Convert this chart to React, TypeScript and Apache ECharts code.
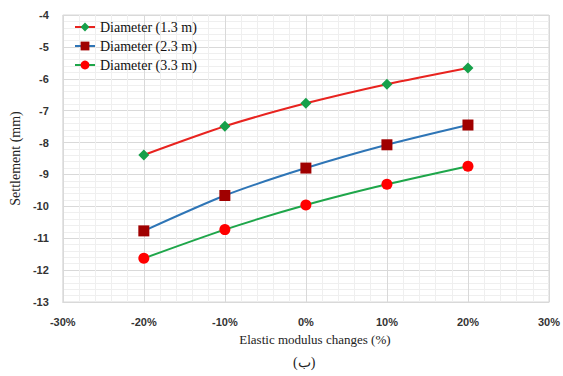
import React, { useEffect, useRef } from "react";
import * as echarts from "echarts";

const categories = [-20, -10, 0, 10, 20];
const d13 = [-8.39, -7.49, -6.77, -6.17, -5.66];
const d23 = [-10.77, -9.66, -8.80, -8.07, -7.45];
const d33 = [-11.63, -10.73, -9.96, -9.31, -8.74];
const seriesNames = ["Diameter (1.3 m)", "Diameter (2.3 m)", "Diameter (3.3 m)"];

const pair = (vals: number[]) => categories.map((c, i) => [c, vals[i]]);

export default function App() {
  const ref = useRef<HTMLDivElement>(null);
  useEffect(() => {
    const chart = echarts.init(ref.current!, null, { renderer: "svg" });
    const serif = "Liberation Serif";
    const sans = "Liberation Sans";
    chart.setOption({
      animation: false,
      backgroundColor: "#ffffff",
      textStyle: { fontFamily: serif },
      grid: { left: 59, right: 14, top: 15, bottom: 74, show: true, borderColor: "#d9d9d9", borderWidth: 1 },
      legend: {
        left: 69,
        top: 15,
        orient: "vertical",
        itemGap: 5,
        itemWidth: 20,
        itemHeight: 11,
        textStyle: { fontFamily: serif, fontSize: 14, color: "#111" },
        data: seriesNames,
      },
      xAxis: {
        type: "value",
        min: -30,
        max: 30,
        interval: 10,
        name: "Elastic modulus changes (%)",
        nameLocation: "middle",
        nameGap: 31,
        nameTextStyle: { fontFamily: serif, fontSize: 13, color: "#222", padding: [0, 0, 0, 18] },
        axisLine: { show: true, lineStyle: { color: "#d9d9d9" } },
        axisTick: { show: false },
        axisLabel: { formatter: "{value}%", fontFamily: sans, fontWeight: "bold", fontSize: 11, color: "#333", margin: 14 },
        splitLine: { show: true, lineStyle: { color: "#d9d9d9", width: 1 } },
        minorTick: { show: false, splitNumber: 5 },
        minorSplitLine: { show: true, lineStyle: { color: "#efefef", width: 1 } },
      },
      yAxis: {
        type: "value",
        min: -13,
        max: -4,
        interval: 1,
        name: "Settlement (mm)",
        nameLocation: "middle",
        nameGap: 40,
        nameTextStyle: { fontFamily: serif, fontSize: 14, color: "#222" },
        axisLine: { show: false },
        axisTick: { show: false },
        axisLabel: { fontFamily: sans, fontWeight: "bold", fontSize: 11, color: "#333", margin: 14 },
        splitLine: { show: true, lineStyle: { color: "#d9d9d9", width: 1 } },
        minorTick: { show: false, splitNumber: 5 },
        minorSplitLine: { show: true, lineStyle: { color: "#efefef", width: 1 } },
      },
      series: [
        {
          name: seriesNames[0],
          type: "line",
          data: pair(d13),
          smooth: 0.25,
          symbol: "diamond",
          symbolSize: 11,
          lineStyle: { color: "#e8231f", width: 2 },
          itemStyle: { color: "#16a04a" },
        },
        {
          name: seriesNames[1],
          type: "line",
          data: pair(d23),
          smooth: 0.25,
          symbol: "rect",
          symbolSize: 11,
          lineStyle: { color: "#2e75b6", width: 2 },
          itemStyle: { color: "#a00000" },
        },
        {
          name: seriesNames[2],
          type: "line",
          data: pair(d33),
          smooth: 0.25,
          symbol: "circle",
          symbolSize: 11,
          lineStyle: { color: "#1ea64a", width: 2 },
          itemStyle: { color: "#ff0000" },
        },
      ],
      graphic: [
        {
          type: "text",
          left: 293,
          top: 355,
          style: { text: "(ب)", font: "14px 'Liberation Serif'", fill: "#222" },
        },
      ],
    });
    return () => chart.dispose();
  }, []);
  return <div ref={ref} style={{ width: 563, height: 376, position: "absolute", left: 0, top: 0 }} />;
}
